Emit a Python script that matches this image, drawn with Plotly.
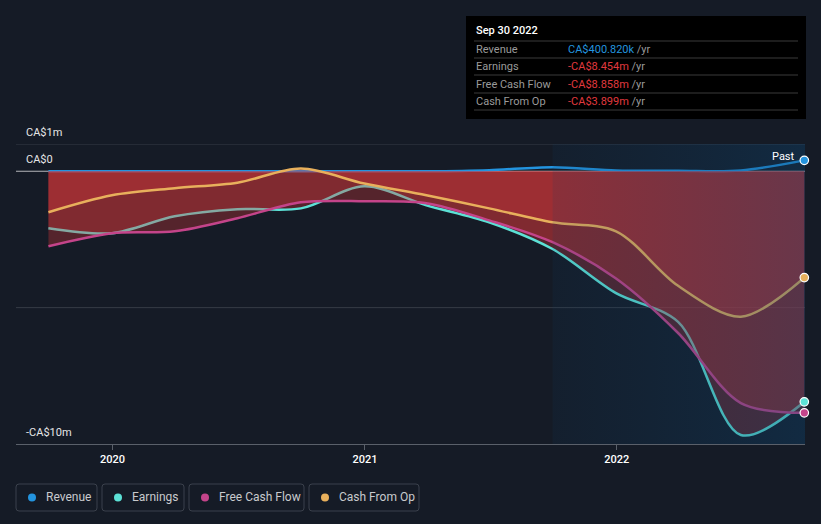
import plotly.graph_objects as go

# ---------------- data (CA$ millions) ----------------
dates = ["2019-09-30", "2019-12-31", "2020-03-31", "2020-06-30", "2020-09-30",
         "2020-12-31", "2021-03-31", "2021-06-30", "2021-09-30", "2021-12-31",
         "2022-03-31", "2022-06-30", "2022-09-30"]
revenue = [0.0, 0.0, 0.0, 0.0, 0.0, 0.0, 0.0, 0.04, 0.15, 0.03, 0.02, 0.03, 0.40]
earnings = [-2.09, -2.27, -1.65, -1.39, -1.36, -0.55, -1.25, -1.87, -2.85, -4.47, -5.52, -9.67, -8.454]
free_cash_flow = [-2.75, -2.27, -2.2, -1.72, -1.14, -1.1, -1.17, -1.8, -2.6, -3.93, -5.93, -8.5, -8.858]
cash_from_op = [-1.5, -0.88, -0.62, -0.42, 0.1, -0.45, -0.88, -1.36, -1.87, -2.2, -4.2, -5.33, -3.899]

series_names = ["Revenue", "Earnings", "Free Cash Flow", "Cash From Op"]
series_values = [revenue, earnings, free_cash_flow, cash_from_op]
series_colors = ["#2394df", "#5ce1d6", "#c4448a", "#e8b05c"]

ytick_vals = [1, 0, -10]
ytick_text = ["CA$1m", "CA$0", "-CA$10m"]
grid_vals = [1, -5]
xtick_vals = ["2020-01-01", "2021-01-01", "2022-01-01"]
xtick_text = ["2020", "2021", "2022"]
x_range = ["2019-08-14", "2022-10-01"]
y_range = [-10, 1]
past_start = dates[8]

tooltip_title = "Sep 30 2022"
tooltip_values = ["CA$400.820k", "-CA$8.454m", "-CA$8.858m", "-CA$3.899m"]
tooltip_colors = ["#2394df", "#e0393e", "#e0393e", "#e0393e"]

BG = "#151b26"
FONT = "Roboto, Noto Sans, sans-serif"

W, H = 821, 524
L, R, T, B = 16, 805, 144, 444


def px(x):
    return (x - L) / (R - L)


def py(y):
    return (B - y) / (B - T)


fig = go.Figure()

# series with fills to zero (later fills overlay earlier lines)
for name, vals, col in zip(series_names, series_values, series_colors):
    fill = "tozeroy" if name != "Revenue" else "none"
    fig.add_trace(go.Scatter(
        x=dates, y=vals, name=name, mode="lines",
        line=dict(color=col, width=2.5, shape="spline", smoothing=0.9),
        fill=fill, fillcolor="rgba(215,55,58,0.33)",
        hoverinfo="skip", showlegend=False,
    ))

# "Past" highlight overlay
fig.add_trace(go.Scatter(
    x=[past_start, x_range[1], x_range[1], past_start, past_start],
    y=[y_range[0], y_range[0], y_range[1], y_range[1], y_range[0]],
    mode="lines", line=dict(width=0), fill="toself",
    fillgradient=dict(type="horizontal",
                      colorscale=[[0, "rgba(12,60,100,0.13)"], [1, "rgba(12,70,115,0.36)"]]),
    hoverinfo="skip", showlegend=False,
))

# end markers
for name, vals, col in zip(series_names, series_values, series_colors):
    fig.add_trace(go.Scatter(
        x=[dates[-1]], y=[vals[-1]], mode="markers",
        marker=dict(color=col, size=8.5, line=dict(color="#ffffff", width=1.2)),
        cliponaxis=False, hoverinfo="skip", showlegend=False,
    ))

shapes = []
annotations = []

# y gridlines (non-zero)
for gv in grid_vals:
    shapes.append(dict(type="line", xref="paper", yref="y", x0=0, x1=1, y0=gv, y1=gv,
                       line=dict(color="#363c46", width=1), layer="below"))
# zero line
shapes.append(dict(type="line", xref="paper", yref="y", x0=0, x1=1, y0=0, y1=0,
                   line=dict(color="#b4b6ba", width=1.2), layer="below"))

# y labels
for v, t in zip(ytick_vals, ytick_text):
    annotations.append(dict(x=px(24), y=v, xref="paper", yref="y", text=t, showarrow=False,
                            xanchor="left", yanchor="bottom", yshift=3,
                            font=dict(family=FONT, size=11, color="#e6e6e6")))

# "Past" label
annotations.append(dict(x=px(797), y=py(156), xref="paper", yref="paper", text="Past",
                        showarrow=False, xanchor="right", yanchor="middle",
                        font=dict(family=FONT, size=11, color="#ffffff")))

# tooltip box
shapes.append(dict(type="rect", xref="paper", yref="paper", x0=px(466), x1=px(806),
                   y0=py(16), y1=py(119), fillcolor="#000000", line=dict(width=0)))
annotations.append(dict(x=px(474), y=py(31), xref="paper", yref="paper", text=tooltip_title,
                        showarrow=False, xanchor="left", yanchor="middle",
                        font=dict(family=FONT, size=11, color="#ffffff", weight=500)))
row_y = [49, 66, 84, 101]
for ry in [41, 58, 75, 93, 110]:
    shapes.append(dict(type="line", xref="paper", yref="paper", x0=px(474), x1=px(798),
                       y0=py(ry), y1=py(ry), line=dict(color="#3a3a3a", width=1)))
for ry, lab, val, vc in zip(row_y, series_names, tooltip_values, tooltip_colors):
    annotations.append(dict(x=px(474), y=py(ry), xref="paper", yref="paper", text=lab,
                            showarrow=False, xanchor="left", yanchor="middle",
                            font=dict(family=FONT, size=11, color="#9a9a9a")))
    annotations.append(dict(x=px(566), y=py(ry), xref="paper", yref="paper",
                            text=f"<span style='color:{vc}'>{val}</span> /yr",
                            showarrow=False, xanchor="left", yanchor="middle",
                            font=dict(family=FONT, size=11, color="#9a9a9a")))

# custom legend
leg_boxes = [(16, 97), (102, 184), (189, 304), (309, 419)]
ly0, ly1 = 484, 511
for (bx0, bx1), name, col in zip(leg_boxes, series_names, series_colors):
    r = 3
    x0, x1, y0, y1 = px(bx0), px(bx1), py(ly1), py(ly0)
    rx, ry_ = r / (R - L), r / (B - T)
    path = (f"M {x0+rx},{y0} L {x1-rx},{y0} Q {x1},{y0} {x1},{y0+ry_} "
            f"L {x1},{y1-ry_} Q {x1},{y1} {x1-rx},{y1} L {x0+rx},{y1} "
            f"Q {x0},{y1} {x0},{y1-ry_} L {x0},{y0+ry_} Q {x0},{y0} {x0+rx},{y0} Z")
    shapes.append(dict(type="path", xref="paper", yref="paper", path=path,
                       line=dict(color="#3b414c", width=1), fillcolor="rgba(0,0,0,0)"))
    cy = (ly0 + ly1) / 2
    shapes.append(dict(type="circle", xref="paper", yref="paper",
                       x0=px(bx0 + 12), x1=px(bx0 + 20), y0=py(cy + 4), y1=py(cy - 4),
                       fillcolor=col, line=dict(width=0)))
    annotations.append(dict(x=px(bx0 + 28), y=py(cy), xref="paper", yref="paper", text=name,
                            showarrow=False, xanchor="left", yanchor="middle",
                            font=dict(family=FONT, size=12, color="#c8cacd")))

fig.update_layout(
    width=W, height=H,
    margin=dict(l=L, r=W - R, t=T, b=H - B, pad=0),
    paper_bgcolor=BG, plot_bgcolor=BG,
    shapes=shapes, annotations=annotations,
    showlegend=False,
    xaxis=dict(type="date", range=x_range, tickvals=xtick_vals, ticktext=xtick_text,
               showgrid=False, zeroline=False, showline=True, linecolor="#5a606a", linewidth=1,
               ticks="outside", ticklen=5, tickcolor="#5a606a", tickwidth=1,
               tickfont=dict(family=FONT, size=11, color="#ffffff", weight=500),
               fixedrange=True),
    yaxis=dict(range=y_range, showgrid=False, zeroline=False, showticklabels=False,
               showline=False, fixedrange=True),
)

fig.write_html(
    "out.html",
    config={"displayModeBar": False},
    post_script="document.body.style.margin='0';document.body.style.padding='0';"
                "document.body.style.background='#151b26';document.body.style.overflow='hidden';",
)
